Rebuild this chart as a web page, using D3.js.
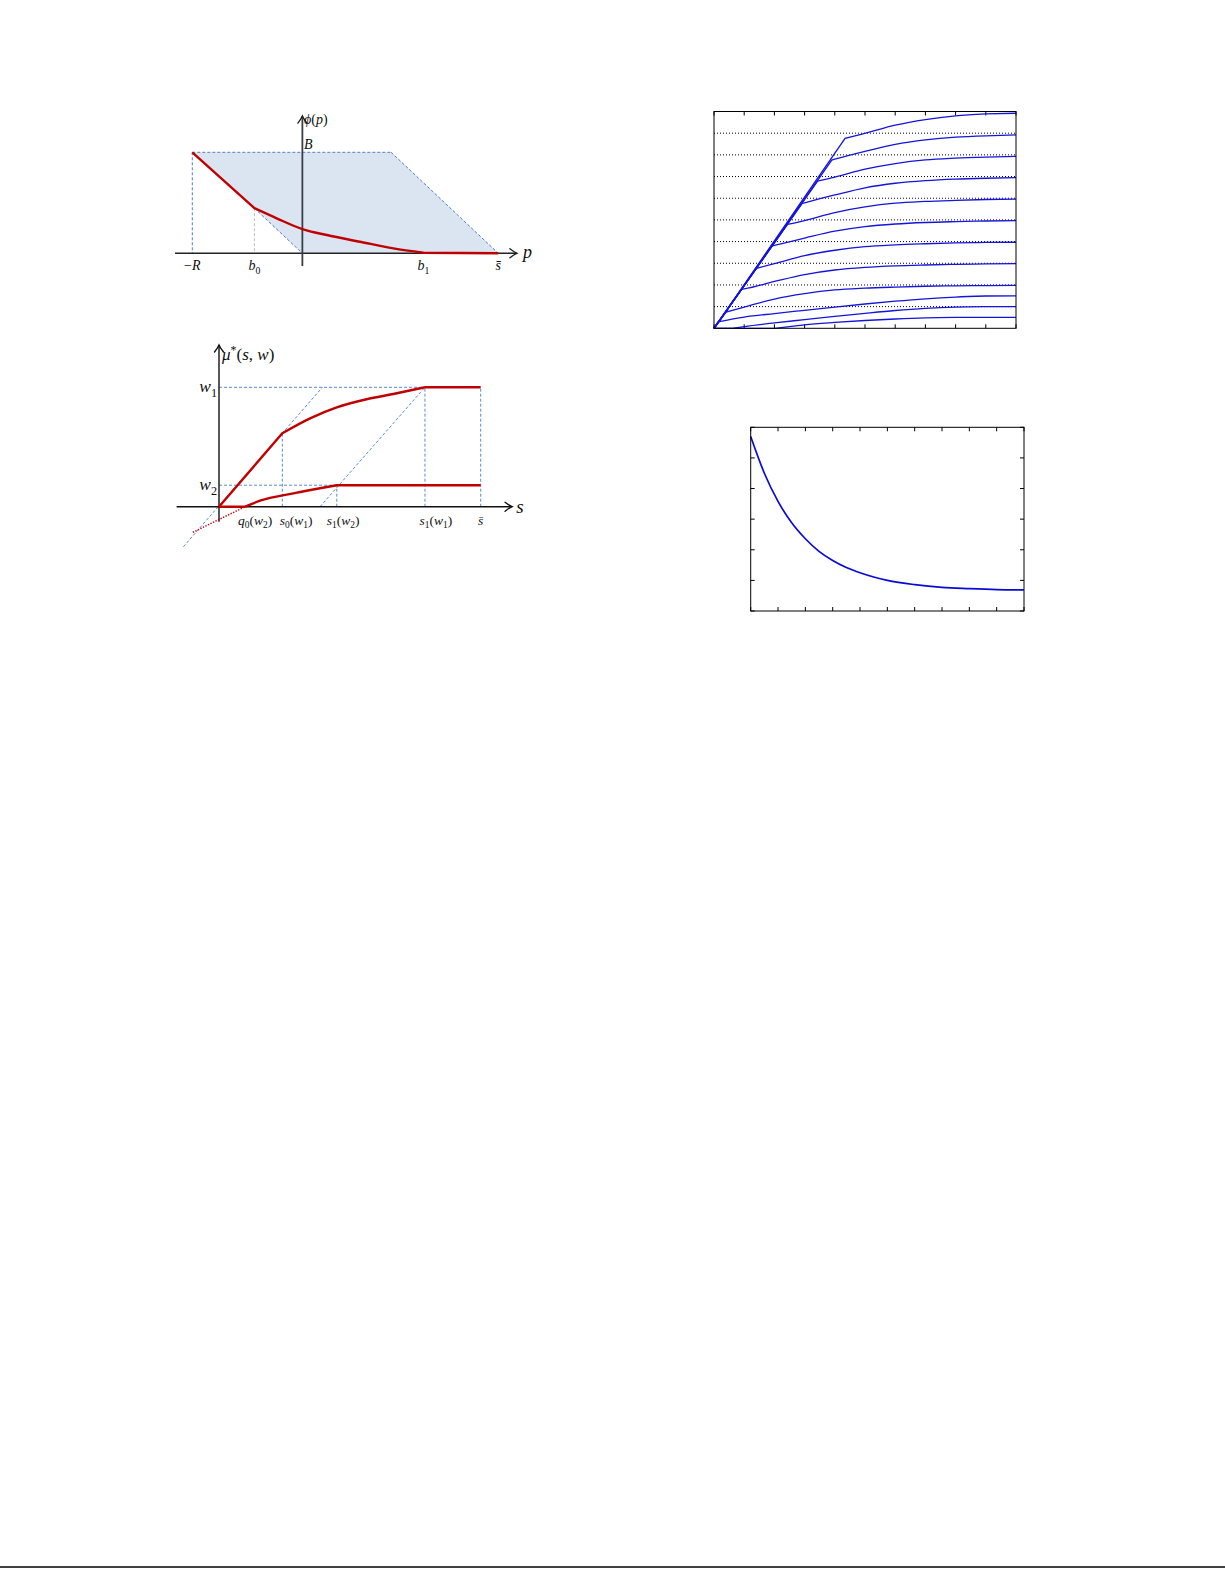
<!DOCTYPE html>
<html>
<head>
<meta charset="utf-8">
<script src="https://cdn.jsdelivr.net/npm/d3@7"></script>
<style>
  body { margin: 0; background: #fff; }
  svg { display: block; }
  text { font-family: "Liberation Serif", "DejaVu Serif", serif; fill: #111; }
</style>
</head>
<body>
<svg id="chart" width="1225" height="1585"></svg>
<script>
// ---- top left: phi(p), units where R = 1
const phiShade = [[-1, 0.918], [0.806, 0.918], [1.78, 0], [0, 0], [-0.436, 0.41]];
const phiCurve = [[-1, 0.918], [-0.436, 0.41], [-0.233, 0.318], [0, 0.22], [0.222, 0.166],
  [0.525, 0.105], [0.827, 0.045], [1.1, 0.005], [1.78, 0]];
const phiBlueGuides = [
  [[-1, 0.918], [0.806, 0.918]],
  [[0.806, 0.918], [1.78, 0]],
  [[-0.436, 0.41], [0, 0]],
  [[-1, 0.918], [-1, 0]]
];
const phiGrayGuides = [[[-0.436, 0.41], [-0.436, 0]]];
const phiTicks = [[-1, "−R"], [-0.436, "b_0"], [1.1, "b_1"], [1.78, "s̄"]];

// ---- bottom left: mu*(s, w), s in [0, s̄ = 10], w1 = 1
const muUpper = [[0, 0], [2.42, 0.615], [3.48, 0.74], [4.5, 0.832], [5.64, 0.9], [6.66, 0.944], [7.87, 1], [10, 1]];
const muLower = [[0, 0], [1.0, 0], [1.57, 0.05], [2.84, 0.112], [4.5, 0.18], [10, 0.18]];
const muDotted = [[-1.0, -0.215], [-0.4, -0.15], [0.3, -0.075], [1.0, 0]];
const muGuides = [
  [[0, 1], [7.87, 1]],
  [[0, 0.18], [4.5, 0.18]],
  [[-1.36, -0.335], [3.95, 1]],
  [[3.86, 0], [7.87, 1]],
  [[2.42, 0], [2.42, 0.615]],
  [[4.5, 0], [4.5, 0.18]],
  [[7.87, 0], [7.87, 1]],
  [[10, 0], [10, 1]]
];
const muSTicks = [[1.38, "q_0(w_2)"], [2.95, "s_0(w_1)"], [4.74, "s_1(w_2)"], [8.29, "s_1(w_1)"], [10, "s̄"]];
const muWTicks = [[1, "w_1"], [0.18, "w_2"]];

// ---- top right: family of curves, one per w
const familyCurves = [
  [[0, 0], [4.34, 8.76], [5, 8.99], [6, 9.37], [7, 9.63], [8, 9.80], [9, 9.89], [10, 9.92]],
  [[0, 0], [3.90, 7.76], [4, 7.80], [5, 8.16], [6, 8.48], [7, 8.69], [8, 8.82], [9, 8.88], [10, 8.92]],
  [[0, 0], [3.43, 6.79], [4, 6.97], [5, 7.34], [6, 7.60], [7, 7.77], [8, 7.85], [9, 7.90], [10, 7.93]],
  [[0, 0], [2.92, 5.76], [3, 5.79], [4, 6.15], [5, 6.48], [6, 6.69], [7, 6.81], [8, 6.88], [9, 6.92], [10, 6.95]],
  [[0, 0], [2.43, 4.79], [3, 4.97], [4, 5.34], [5, 5.60], [6, 5.77], [7, 5.85], [8, 5.90], [9, 5.94], [10, 5.96]],
  [[0, 0], [1.91, 3.79], [2, 3.82], [3, 4.16], [4, 4.48], [5, 4.69], [6, 4.81], [7, 4.88], [8, 4.92], [9, 4.95], [10, 4.97]],
  [[0, 0], [1.41, 2.77], [2, 2.98], [3, 3.35], [4, 3.60], [5, 3.77], [6, 3.85], [7, 3.90], [8, 3.94], [9, 3.96], [10, 3.97]],
  [[0, 0], [0.91, 1.80], [1, 1.82], [2, 2.16], [3, 2.48], [4, 2.69], [5, 2.81], [6, 2.88], [7, 2.92], [8, 2.95], [9, 2.97], [10, 2.98]],
  [[0, 0], [0.40, 0.75], [1, 0.98], [2, 1.35], [3, 1.60], [4, 1.77], [5, 1.85], [6, 1.90], [7, 1.94], [8, 1.96], [9, 1.97], [10, 1.98]],
  [[0, 0], [0.13, 0.30], [1, 0.52], [2, 0.68], [3, 0.83], [4, 0.98], [5, 1.12], [6, 1.25], [7, 1.36], [8, 1.44], [9, 1.49], [10, 1.5]],
  [[0, 0], [0.62, 0], [1, 0.08], [2, 0.25], [3, 0.40], [4, 0.55], [5, 0.69], [6, 0.82], [7, 0.92], [8, 0.98], [9, 1.0], [10, 1.0]],
  [[0, 0], [2.01, 0], [2.5, 0.08], [3, 0.16], [4, 0.27], [5, 0.36], [6, 0.43], [7, 0.48], [8, 0.5], [10, 0.5]]
];
const familyXTicks = d3.range(0, 11);
const familyGrid = d3.range(1, 10);

// ---- bottom right: decaying curve
const decayX = [0, 0.5, 1, 1.5, 2, 2.5, 3, 3.5, 4, 4.5, 5, 6, 7, 8, 9, 10];
const decayY = [5.70, 4.50, 3.58, 2.88, 2.36, 1.95, 1.65, 1.42, 1.25, 1.11, 1.00, 0.86, 0.77, 0.73, 0.70, 0.69];
const decayXTicks = d3.range(0, 11);
const decayYTicks = d3.range(0, 7);

const svg = d3.select('#chart');

// math-ish label: letters italic, "_x" subscript, "^x" superscript
function mathText(g, str, x, y, size, anchor) {
  const t = g.append('text')
    .attr('x', x).attr('y', y)
    .attr('font-size', size)
    .attr('text-anchor', anchor || 'middle');
  let cur = 0;
  let mode = '';
  Array.from(str).forEach(c => {
    if (c === '_' || c === '^') { mode = c; return; }
    if (/[\u0300-\u036f]/.test(c)) {
      const last = t.select('tspan:last-child');
      last.text(last.text() + c);
      return;
    }
    const off = mode === '_' ? size * 0.25 : mode === '^' ? -size * 0.38 : 0;
    t.append('tspan')
      .text(c)
      .attr('dy', off - cur)
      .attr('font-style', /[A-Za-zμϕ]/.test(c) ? 'italic' : 'normal')
      .attr('font-size', mode ? size * 0.7 : size);
    cur = off;
    mode = '';
  });
  return t;
}

function arrowHead(g, x, y, dir, color) {
  // tikz-like open arrow tip
  const d = dir === 'right'
    ? `M${x - 7},${y - 4.5} Q${x - 2.5},${y - 1} ${x},${y} Q${x - 2.5},${y + 1} ${x - 7},${y + 4.5}`
    : `M${x - 4.5},${y + 7} Q${x - 1},${y + 2.5} ${x},${y} Q${x + 1},${y + 2.5} ${x + 4.5},${y + 7}`;
  g.append('path').attr('d', d).attr('fill', 'none')
    .attr('stroke', color).attr('stroke-width', 1.4).attr('stroke-linecap', 'round');
}

// linear first and last segment, smooth in between
function kinkedPath(pts, xs, ys) {
  const lin = d3.line().x(d => xs(d[0])).y(d => ys(d[1]));
  const smooth = d3.line().x(d => xs(d[0])).y(d => ys(d[1])).curve(d3.curveMonotoneX);
  const n = pts.length;
  const head = lin(pts.slice(0, 2));
  const mid = smooth(pts.slice(1, n - 1)).replace(/^M/, 'L');
  const tail = lin(pts.slice(n - 2)).replace(/^M[^L]*/, '');
  return head + mid + tail;
}

// ================= panel 1 =================
{
  const g = svg.append('g');
  const x = d3.scaleLinear().domain([-1, 1.78]).range([192.3, 498.3]);
  const y = d3.scaleLinear().domain([0, 0.918]).range([253.3, 152.3]);
  const line = d3.line().x(d => x(d[0])).y(d => y(d[1]));

  g.append('path').attr('d', line(phiShade) + 'Z').attr('fill', '#dbe4f1');

  phiBlueGuides.forEach(s => g.append('path').attr('d', line(s))
    .attr('stroke', '#4f7fc4').attr('stroke-width', 1).attr('stroke-dasharray', '3,2').attr('fill', 'none'));
  phiGrayGuides.forEach(s => g.append('path').attr('d', line(s))
    .attr('stroke', '#b5bcc8').attr('stroke-width', 1).attr('stroke-dasharray', '3,2').attr('fill', 'none'));

  // axes
  g.append('line').attr('x1', x(-1.157)).attr('x2', x(1.949)).attr('y1', y(0)).attr('y2', y(0))
    .attr('stroke', '#222').attr('stroke-width', 1.5);
  arrowHead(g, x(1.949), y(0), 'right', '#222');
  g.append('line').attr('x1', x(0)).attr('x2', x(0)).attr('y1', y(-0.116)).attr('y2', y(1.247))
    .attr('stroke', '#3a3f47').attr('stroke-width', 1.8);
  arrowHead(g, x(0), y(1.247), 'up', '#222');

  g.append('path').attr('d', kinkedPath(phiCurve, x, y))
    .attr('fill', 'none').attr('stroke', '#c00000').attr('stroke-width', 2.4).attr('stroke-linejoin', 'round');

  phiTicks.forEach(([v, lab]) => mathText(g, lab, x(v), 270, 14));
  mathText(g, 'p', 523, 258, 18, 'start');
  mathText(g, 'ϕ(p)', 304, 124, 14, 'start');
  mathText(g, 'B', 304, 149, 14, 'start');
}

// ================= panel 2 =================
{
  const g = svg.append('g');
  const x = d3.scaleLinear().domain([0, 10]).range([219, 480.7]);
  const y = d3.scaleLinear().domain([0, 1]).range([506.7, 387.3]);
  const line = d3.line().x(d => x(d[0])).y(d => y(d[1]));

  muGuides.forEach(s => g.append('path').attr('d', line(s))
    .attr('stroke', '#5b8ad0').attr('stroke-width', 1).attr('stroke-dasharray', '3,2').attr('fill', 'none'));

  g.append('line').attr('x1', x(-1.62)).attr('x2', x(11.2)).attr('y1', y(0)).attr('y2', y(0))
    .attr('stroke', '#111').attr('stroke-width', 1.4);
  arrowHead(g, x(11.2), y(0), 'right', '#111');
  g.append('line').attr('x1', x(0)).attr('x2', x(0)).attr('y1', y(-0.126)).attr('y2', y(1.354))
    .attr('stroke', '#111').attr('stroke-width', 1.4);
  arrowHead(g, x(0), y(1.354), 'up', '#111');

  g.append('path').attr('d', d3.line().x(d => x(d[0])).y(d => y(d[1])).curve(d3.curveMonotoneX)(muDotted))
    .attr('fill', 'none').attr('stroke', '#c00000').attr('stroke-width', 1.4).attr('stroke-dasharray', '1.4,1.4');

  [muUpper, muLower].forEach(c => g.append('path').attr('d', kinkedPath(c, x, y))
    .attr('fill', 'none').attr('stroke', '#c00000').attr('stroke-width', 2.4).attr('stroke-linejoin', 'round'));

  muSTicks.forEach(([v, lab]) => mathText(g, lab, x(v), 524.5, 13.5));
  muWTicks.forEach(([v, lab]) => mathText(g, lab, 217, y(v) + 5, 17.5, 'end'));
  mathText(g, 's', 520, 512.5, 19, 'middle');
  mathText(g, 'μ^*(s, w)', 222, 360, 17, 'start');
}

// ================= panel 3 =================
{
  const g = svg.append('g');
  const x = d3.scaleLinear().domain([0, 10]).range([714, 1016]);
  const y = d3.scaleLinear().domain([0, 10]).range([328.3, 111.5]);

  g.selectAll('.grid').data(familyGrid).enter().append('line')
    .attr('x1', x(0)).attr('x2', x(10)).attr('y1', d => y(d)).attr('y2', d => y(d))
    .attr('stroke', '#000').attr('stroke-width', 1).attr('stroke-dasharray', '1,2');

  g.selectAll('.tickT').data(familyXTicks).enter().append('line')
    .attr('x1', d => x(d)).attr('x2', d => x(d)).attr('y1', y(10)).attr('y2', y(10) + 4)
    .attr('stroke', '#000');
  g.selectAll('.tickB').data(familyXTicks).enter().append('line')
    .attr('x1', d => x(d)).attr('x2', d => x(d)).attr('y1', y(0)).attr('y2', y(0) - 4)
    .attr('stroke', '#000');

  familyCurves.forEach(c => g.append('path').attr('d', kinkedPath(c, x, y))
    .attr('fill', 'none').attr('stroke', '#1414dc').attr('stroke-width', 1.3));

  g.append('rect').attr('x', x(0)).attr('y', y(10)).attr('width', x(10) - x(0)).attr('height', y(0) - y(10))
    .attr('fill', 'none').attr('stroke', '#000').attr('stroke-width', 1);
}

// ================= panel 4 =================
{
  const g = svg.append('g');
  const x = d3.scaleLinear().domain([0, 10]).range([750.7, 1024]);
  const y = d3.scaleLinear().domain([0, 6]).range([611, 427.3]);

  g.selectAll('.tickT').data(decayXTicks).enter().append('line')
    .attr('x1', d => x(d)).attr('x2', d => x(d)).attr('y1', y(6)).attr('y2', y(6) + 4).attr('stroke', '#000');
  g.selectAll('.tickB').data(decayXTicks).enter().append('line')
    .attr('x1', d => x(d)).attr('x2', d => x(d)).attr('y1', y(0)).attr('y2', y(0) - 4).attr('stroke', '#000');
  g.selectAll('.tickL').data(decayYTicks).enter().append('line')
    .attr('x1', x(0)).attr('x2', x(0) + 4).attr('y1', d => y(d)).attr('y2', d => y(d)).attr('stroke', '#000');
  g.selectAll('.tickR').data(decayYTicks).enter().append('line')
    .attr('x1', x(10)).attr('x2', x(10) - 4).attr('y1', d => y(d)).attr('y2', d => y(d)).attr('stroke', '#000');

  const pts = decayX.map((v, i) => [v, decayY[i]]);
  g.append('path')
    .attr('d', d3.line().x(d => x(d[0])).y(d => y(d[1])).curve(d3.curveMonotoneX)(pts))
    .attr('fill', 'none').attr('stroke', '#0a0ad8').attr('stroke-width', 1.7);

  g.append('rect').attr('x', x(0)).attr('y', y(6)).attr('width', x(10) - x(0)).attr('height', y(0) - y(6))
    .attr('fill', 'none').attr('stroke', '#000').attr('stroke-width', 1);
}

// page rule at the foot
svg.append('line').attr('x1', 0).attr('x2', 1225).attr('y1', 1567).attr('y2', 1567)
  .attr('stroke', '#000').attr('stroke-width', 1.5);
</script>
</body>
</html>
